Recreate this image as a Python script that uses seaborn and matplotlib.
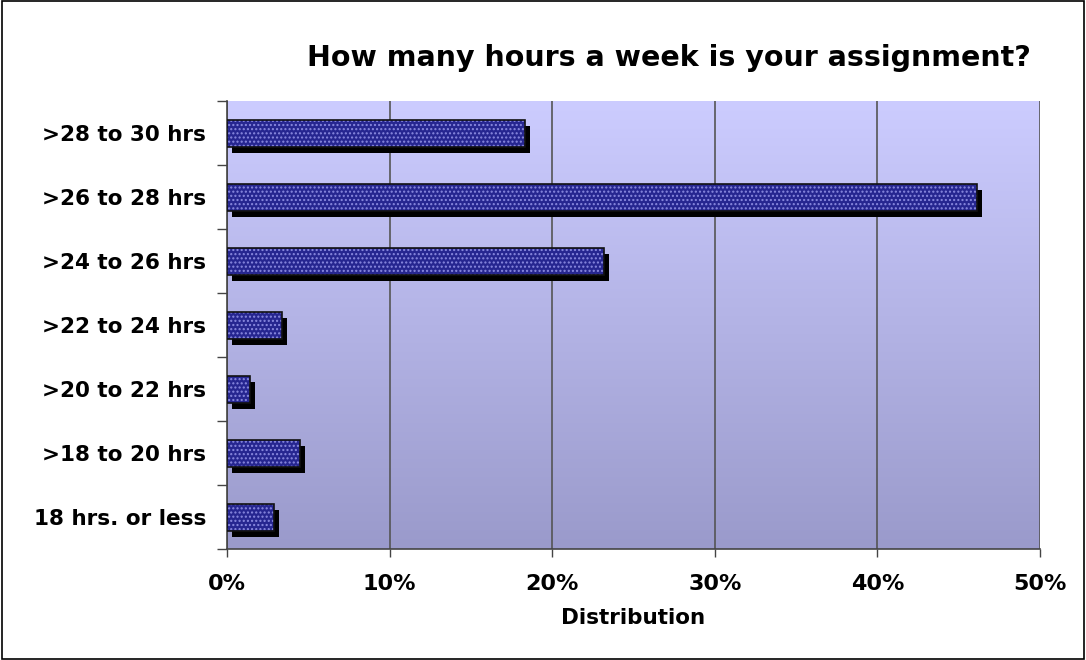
import numpy as np
import pandas as pd
import matplotlib
matplotlib.use('Agg')
from matplotlib import pyplot as plt
from matplotlib import transforms
from matplotlib.ticker import FuncFormatter, FixedLocator
import seaborn as sns

categories = ['>28 to 30 hrs', '>26 to 28 hrs', '>24 to 26 hrs', '>22 to 24 hrs',
              '>20 to 22 hrs', '>18 to 20 hrs', '18 hrs. or less']
shares = [18.3, 46.1, 23.2, 3.4, 1.4, 4.5, 2.9]

df = pd.DataFrame({'category': categories, 'share': shares})

sns.set_style('white')
plt.rcParams['font.family'] = ['DejaVu Sans']
plt.rcParams['text.color'] = 'black'
plt.rcParams['xtick.color'] = 'black'
plt.rcParams['ytick.color'] = 'black'
plt.rcParams['axes.labelcolor'] = 'black'
plt.rcParams['hatch.linewidth'] = 1.0

fig = plt.figure(figsize=(10.86, 6.6), dpi=100)
ax = fig.add_axes([0.209, 0.168, 0.7486, 0.6785])

# gradient plot area background
grad = np.linspace(0, 1, 256).reshape(-1, 1)
cmap = matplotlib.colors.LinearSegmentedColormap.from_list('bg', ['#ccccff', '#9a9acb'])
ax.imshow(grad, aspect='auto', cmap=cmap, extent=(0, 50, 6.5, -0.5),
          zorder=0, interpolation='bicubic')

sns.barplot(data=df, x='share', y='category', order=categories, ax=ax,
            color='#262690', width=0.42, orient='h', zorder=3, saturation=1)

shadow_tr = transforms.offset_copy(ax.transData, fig=fig, x=5, y=-6, units='dots')
for bar in list(ax.patches):
    x0, y0 = bar.get_x(), bar.get_y()
    w, h = bar.get_width(), bar.get_height()
    # drop shadow
    ax.add_patch(plt.Rectangle((x0, y0), w, h, transform=shadow_tr,
                               facecolor='black', edgecolor='none', zorder=2))
    # dotted fill
    bar.set_hatch('....')
    bar.set_edgecolor('#8a8ae0')
    bar.set_linewidth(0)
    # dark outline
    ax.add_patch(plt.Rectangle((x0, y0), w, h, fill=False, edgecolor='#111111',
                               linewidth=1.2, zorder=4))

ax.set_xlim(0, 50)
ax.set_ylim(6.5, -0.5)
ax.xaxis.set_major_locator(FixedLocator([0, 10, 20, 30, 40, 50]))
ax.xaxis.set_major_formatter(FuncFormatter(lambda v, p: f'{v:.0f}%'))
ax.grid(axis='x', color='#555555', linewidth=1.2, zorder=1)
ax.set_axisbelow(True)

ax.yaxis.set_minor_locator(FixedLocator(np.arange(-0.5, 7, 1)))
ax.tick_params(axis='y', which='major', length=0, pad=15, labelsize=15.5)
ax.tick_params(axis='y', which='minor', length=7, width=1, color='#444444', left=True)
ax.tick_params(axis='x', length=6, width=1, color='#444444', bottom=True,
               labelsize=16, pad=12)
for lab in ax.get_yticklabels() + ax.get_xticklabels():
    lab.set_fontweight('bold')

for side in ['top', 'right']:
    ax.spines[side].set_visible(False)
for side in ['left', 'bottom']:
    ax.spines[side].set_color('#444444')
    ax.spines[side].set_linewidth(1.2)

ax.set_ylabel('')
ax.set_xlabel('Distribution', fontsize=15.5, fontweight='bold', labelpad=10)

fig.text(0.616, 0.912, 'How many hours a week is your assignment?', ha='center',
         va='center', fontsize=20.5, fontweight='bold')

# outer border
fig.patches.append(plt.Rectangle((0.002, 0.002), 0.996, 0.996, transform=fig.transFigure,
                                 fill=False, edgecolor='black', linewidth=1.2))

plt.savefig('out.png', dpi=100)
